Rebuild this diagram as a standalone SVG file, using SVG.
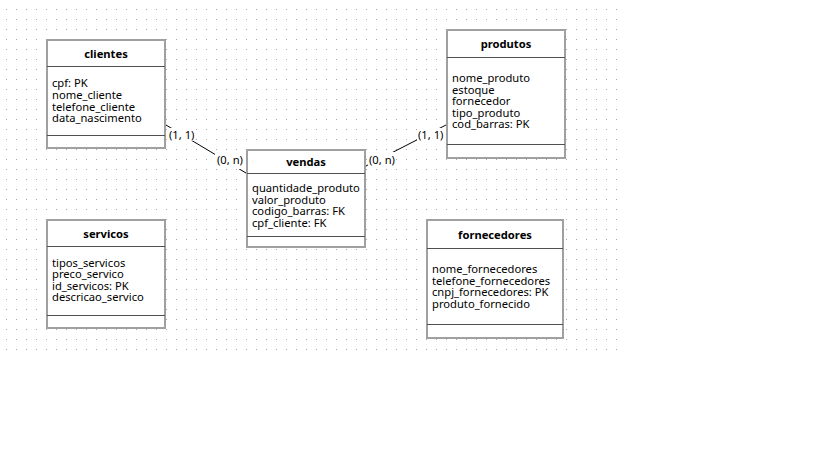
<svg xmlns="http://www.w3.org/2000/svg" width="819" height="460" viewBox="0 0 819 460">
  <defs>
    <pattern id="grid" x="6" y="9" width="10" height="10" patternUnits="userSpaceOnUse">
      <rect x="0" y="0" width="1" height="1" fill="#a8a8a8"/>
    </pattern>
  </defs>
  <style>
    .box { fill: #ffffff; stroke: #a0a0a0; stroke-width: 2; }
    .sep { stroke: #505050; stroke-width: 1; }
    .title { font-family: "Noto Sans", "Open Sans", sans-serif; font-size: 11.2px; font-weight: bold; fill: #000000; text-anchor: middle; }
    .attr { font-family: "Noto Sans", "Open Sans", sans-serif; font-size: 11.2px; fill: #000000; }
    .card { font-family: "Noto Sans", "Open Sans", sans-serif; font-size: 11.2px; fill: #000000; }
    .conn { stroke: #000000; stroke-width: 1; fill: none; }
    .lblbg { fill: #ffffff; }
  </style>
  <rect x="0" y="0" width="819" height="460" fill="#ffffff"/>
  <rect x="0" y="0" width="620" height="352" fill="url(#grid)"/>

  <g id="connectors">
    <line class="conn" x1="166" y1="125" x2="246" y2="173"/>
    <line class="conn" x1="366" y1="166" x2="446" y2="125"/>
    <rect class="lblbg" x="168" y="128" width="28" height="13"/>
    <text class="card" x="169" y="138.5">(1, 1)</text>
    <rect class="lblbg" x="215" y="154" width="28" height="15"/>
    <text class="card" x="217" y="164">(0, n)</text>
    <rect class="lblbg" x="368" y="152" width="27" height="15"/>
    <text class="card" x="369" y="163.5">(0, n)</text>
    <rect class="lblbg" x="417" y="128" width="26" height="13"/>
    <text class="card" x="418" y="138.5">(1, 1)</text>
  </g>

  <g id="clientes">
    <rect class="box" x="47" y="40" width="118" height="108"/>
    <line class="sep" x1="47" y1="66.5" x2="165" y2="66.5"/>
    <line class="sep" x1="47" y1="135.5" x2="165" y2="135.5"/>
    <text class="title" x="106" y="57.5">clientes</text>
    <text class="attr" x="52" y="87">cpf: PK</text>
    <text class="attr" x="52" y="98.8">nome_cliente</text>
    <text class="attr" x="52" y="110.5">telefone_cliente</text>
    <text class="attr" x="52" y="122.2">data_nascimento</text>
  </g>

  <g id="vendas">
    <rect class="box" x="247" y="150" width="118" height="97"/>
    <line class="sep" x1="247" y1="173.5" x2="365" y2="173.5"/>
    <line class="sep" x1="247" y1="236.5" x2="365" y2="236.5"/>
    <text class="title" x="306" y="166">vendas</text>
    <text class="attr" x="252" y="192">quantidade_produto</text>
    <text class="attr" x="252" y="203.5">valor_produto</text>
    <text class="attr" x="252" y="215">codigo_barras: FK</text>
    <text class="attr" x="252" y="226.5">cpf_cliente: FK</text>
  </g>

  <g id="produtos">
    <rect class="box" x="447" y="30" width="118" height="128"/>
    <line class="sep" x1="447" y1="57.5" x2="565" y2="57.5"/>
    <line class="sep" x1="447" y1="144.5" x2="565" y2="144.5"/>
    <text class="title" x="506" y="48">produtos</text>
    <text class="attr" x="452" y="82">nome_produto</text>
    <text class="attr" x="452" y="93.5">estoque</text>
    <text class="attr" x="452" y="105">fornecedor</text>
    <text class="attr" x="452" y="116.5">tipo_produto</text>
    <text class="attr" x="452" y="128">cod_barras: PK</text>
  </g>

  <g id="servicos">
    <rect class="box" x="47" y="220" width="118" height="108"/>
    <line class="sep" x1="47" y1="246.5" x2="165" y2="246.5"/>
    <line class="sep" x1="47" y1="315.5" x2="165" y2="315.5"/>
    <text class="title" x="106" y="238">servicos</text>
    <text class="attr" x="52" y="266.5">tipos_servicos</text>
    <text class="attr" x="52" y="278">preco_servico</text>
    <text class="attr" x="52" y="289.5">id_servicos: PK</text>
    <text class="attr" x="52" y="301">descricao_servico</text>
  </g>

  <g id="fornecedores">
    <rect class="box" x="427" y="220" width="136" height="118"/>
    <line class="sep" x1="427" y1="248.5" x2="563" y2="248.5"/>
    <line class="sep" x1="427" y1="324.5" x2="563" y2="324.5"/>
    <text class="title" x="495" y="238.5">fornecedores</text>
    <text class="attr" x="432" y="273">nome_fornecedores</text>
    <text class="attr" x="432" y="284.7">telefone_fornecedores</text>
    <text class="attr" x="432" y="296.3">cnpj_fornecedores: PK</text>
    <text class="attr" x="432" y="308">produto_fornecido</text>
  </g>
</svg>
